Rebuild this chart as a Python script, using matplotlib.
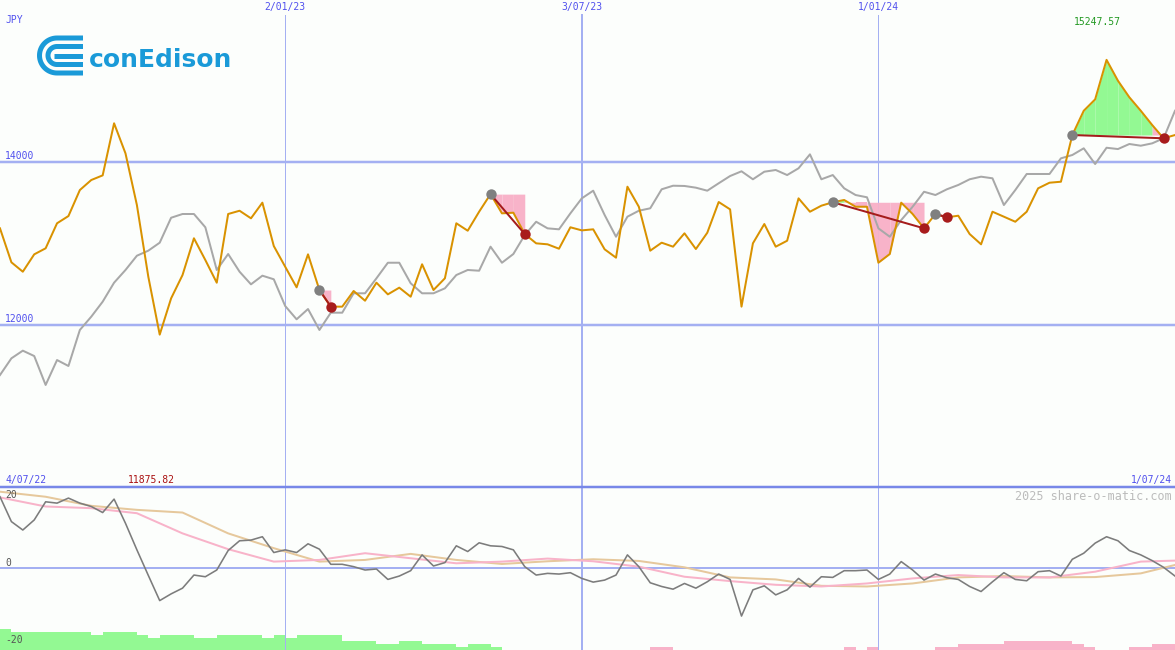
import matplotlib
matplotlib.use('Agg')
import matplotlib.pyplot as plt
import numpy as np
import pandas as pd

# weekly closes, JPY
dates = pd.date_range('2022-07-11', periods=104, freq='7D')

price = [13180, 12763, 12648, 12861, 12935, 13242, 13331, 13650, 13773, 13830,
         14469, 14100, 13466, 12587, 11875.82, 12321, 12607, 13058, 12791, 12513,
         13356, 13396, 13303, 13495, 12963, 12709, 12456, 12861, 12423, 12219,
         12219, 12411, 12292, 12513, 12370, 12452, 12341, 12739, 12423, 12567,
         13242, 13151, 13384, 13600, 13364, 13372, 13110, 12996, 12984, 12930,
         13193, 13155, 13168, 12923, 12820, 13691, 13445, 12906, 13004, 12955,
         13119, 12926, 13126, 13503, 13413, 12219, 12996, 13233, 12955, 13028,
         13548, 13384, 13458, 13500, 13528, 13445, 13445, 12758, 12865, 13495,
         13356, 13180, 13356, 13315, 13335, 13110, 12984, 13384, 13323, 13261,
         13384, 13671, 13740, 13752, 14325, 14623, 14763, 15247.57, 14991, 14788,
         14623, 14448, 14285, 14325]

average = [11380, 11585, 11679, 11613, 11258, 11564, 11491, 11933, 12096, 12280,
           12513, 12669, 12844, 12906, 13004, 13310, 13356, 13356, 13193, 12669,
           12865, 12648, 12493, 12599, 12555, 12227, 12064, 12190, 11933, 12145,
           12145, 12383, 12383, 12567, 12758, 12758, 12506, 12383, 12383, 12444,
           12607, 12669, 12660, 12955, 12758, 12865, 13098, 13261, 13180, 13168,
           13364, 13548, 13642, 13344, 13077, 13323, 13396, 13426, 13659, 13703,
           13700, 13679, 13642, 13733, 13822, 13880, 13782, 13875, 13896, 13834,
           13917, 14088, 13782, 13834, 13671, 13589, 13561, 13180, 13077, 13282,
           13445, 13629, 13589, 13659, 13712, 13782, 13814, 13794, 13466, 13650,
           13847, 13847, 13847, 14039, 14080, 14162, 13969, 14169, 14153, 14215,
           14194, 14223, 14285, 14623]

momentum = [21.1, 13.7, 11.2, 14.2, 19.6, 19.2, 20.7, 19.2, 18.2, 16.4,
            20.4, 13.2, 5.3, -2.3, -9.8, -7.8, -6.1, -2.2, -2.7, -0.7,
            5.1, 8.0, 8.2, 9.2, 4.5, 5.3, 4.5, 7.1, 5.5, 1.0,
            1.0, 0.3, -0.7, -0.4, -3.5, -2.5, -0.9, 3.8, 0.5, 1.5,
            6.5, 4.8, 7.4, 6.5, 6.3, 5.3, 0.3, -2.2, -1.7, -1.9,
            -1.5, -3.2, -4.3, -3.7, -2.2, 3.8, 0.3, -4.5, -5.6, -6.4,
            -4.7, -6.1, -4.2, -1.9, -3.5, -14.4, -6.6, -5.4, -8.1, -6.6,
            -3.2, -5.8, -2.7, -2.9, -0.9, -0.9, -0.7, -3.5, -1.9, 1.8,
            -0.7, -3.7, -1.9, -3.0, -3.5, -5.6, -7.1, -4.2, -1.5, -3.5,
            -3.9, -1.2, -0.9, -2.5, 2.5, 4.3, 7.3, 9.2, 8.0, 5.1,
            3.8, 2.1, 0.1, -2.5]

# smoothed momentum, read every 4 weeks
smooth_idx = list(range(0, 104, 4)) + [103]
smooth_fast = [20.9, 18.2, 17.7, 16.2, 10.2, 5.5, 1.8, 2.3, 4.3, 2.8, 1.3, 1.8, 2.7,
               1.9, 0.3, -2.7, -4.0, -5.1, -5.6, -4.7, -3.2, -2.2, -2.9, -2.9, -1.2,
               1.8, 2.1]
smooth_slow = [22.6, 21.1, 18.4, 17.2, 16.4, 10.2, 5.8, 1.8, 2.3, 4.1, 2.3, 1.1, 1.9,
               2.5, 2.0, 0.1, -2.9, -3.5, -5.4, -5.6, -4.7, -2.9, -2.5, -2.9, -2.8,
               -1.7, 0.8]

# strength bars at the foot of the lower panel (+ green, - pink)
bar_levels = ([7, 6, 6, 6, 6, 6, 6, 6, 5, 6, 6, 6, 5, 4, 5, 5, 5, 4, 4, 5, 5, 5, 5,
               4, 5, 4, 5, 5, 5, 5, 3, 3, 3, 2, 2, 3, 3, 2, 2, 2, 1, 2, 2, 1]
              + [0] * 13 + [-1, -1] + [0] * 15 + [-1, 0, -1] + [0] * 5
              + [-1, -1, -2, -2, -2, -2, -3, -3, -3, -3, -3, -3, -2, -1, 0, 0, 0,
                 -1, -1, -2, -2, 0])

# signals: start / end week
sig_start = [28, 43, 73, 82, 94]
sig_end = [29, 46, 81, 83, 102]

mark_dates = ['2023-01-02', '2023-07-03', '2024-01-01']
mark_labels = ['2/01/23', '3/07/23', '1/01/24']
mark_widths = [1, 2, 1]
price_ticks = [14000, 12000]
mom_ticks = [20, 0, -20]

BG = '#fcfefc'
GRID = '#a4b0f2'
BLUE_TXT = '#5050ee'
ORANGE = '#d99200'
PINK = '#f8b3c9'
GREEN = '#93f993'
PX = 0.72  # one pixel in points


def draw_logo(fig):
    ax = fig.add_axes([37 / 1175, 1 - 76 / 650, 46 / 1175, 41 / 650])
    ax.set_xlim(0, 46)
    ax.set_ylim(0, 41)
    ax.axis('off')
    blue = '#1a9ad8'
    cx, cy = 20, 20.5
    for r in [17.5, 9]:
        t = np.linspace(np.pi / 2, 3 * np.pi / 2, 40)
        xs = np.concatenate([[46], cx + r * np.cos(t), [46]])
        ys = np.concatenate([[cy + r], cy + r * np.sin(t), [cy - r]])
        ax.plot(xs, ys, color=blue, lw=5 * PX, solid_capstyle='butt')
    ax.plot([17, 46], [cy, cy], color=blue, lw=5 * PX, solid_capstyle='butt')
    fig.text(89 / 1175, 1 - 67 / 650, 'conEdison', fontsize=18, fontweight='bold',
             family='DejaVu Sans', color=blue, va='baseline')


def top_panel(ax):
    ax.set_facecolor(BG)
    for v in price_ticks:
        ax.axhline(v, color=GRID, lw=2.5 * PX, zorder=1)
        ax.annotate(str(v), (0, v), xycoords=('axes fraction', 'data'),
                    xytext=(5, 1), textcoords='offset pixels', fontsize=7,
                    family='DejaVu Sans Mono', color=BLUE_TXT, va='bottom')
    for d, lab, w in zip(mark_dates, mark_labels, mark_widths):
        ax.axvline(pd.Timestamp(d), ymax=1 - 15 / 487, color=GRID, lw=w * PX, zorder=1)
        ax.text(pd.Timestamp(d), 1 - 2 / 487, lab, transform=ax.get_xaxis_transform(),
                ha='center', va='top', fontsize=7, family='DejaVu Sans Mono', color=BLUE_TXT)

    ax.plot(dates, average, color='#a8a8a8', lw=2 * PX, zorder=3)

    for s, e in zip(sig_start, sig_end):
        level = price[s]
        for k in range(s, e):
            col = GREEN if price[k + 1] > level else PINK
            ax.fill_between(dates[k:k + 2], price[k:k + 2], level, color=col, lw=0, zorder=2)

    ax.plot(dates, price, color=ORANGE, lw=2 * PX, zorder=4)

    for s, e in zip(sig_start, sig_end):
        ax.plot([dates[s], dates[e]], [price[s], price[e]], color='#a51c1c', lw=2 * PX, zorder=5)
        ax.plot(dates[s], price[s], 'o', color='#808080', ms=7.5, mew=0, zorder=6)
        ax.plot(dates[e], price[e], 'o', color='#a81c1c', ms=7.5, mew=0, zorder=6)

    hi = int(np.argmax(price))
    lo = int(np.argmin(price))
    ax.annotate('%.2f' % price[hi], (dates[hi], 1 - 22 / 487), xycoords=('data', 'axes fraction'),
                xytext=(-9, 0), textcoords='offset pixels', ha='center', va='center',
                fontsize=7, family='DejaVu Sans Mono', color='#229922')
    ax.annotate('%.2f' % price[lo], (dates[lo], 0), xycoords=('data', 'axes fraction'),
                xytext=(-8, 2), textcoords='offset pixels', ha='center', va='bottom',
                fontsize=7, family='DejaVu Sans Mono', color='#aa1111')
    ax.text(5 / 1175, 1 - 20 / 487, 'JPY', transform=ax.transAxes, va='center',
            fontsize=7, family='DejaVu Sans Mono', color=BLUE_TXT)
    ax.text(5 / 1175, 2 / 487, '4/07/22', transform=ax.transAxes, va='bottom',
            fontsize=7, family='DejaVu Sans Mono', color=BLUE_TXT)
    ax.text(1 - 3 / 1175, 2 / 487, '1/07/24', transform=ax.transAxes, va='bottom', ha='right',
            fontsize=7, family='DejaVu Sans Mono', color=BLUE_TXT)

    ax.set_xlim(dates[0], dates[-1])
    ax.set_ylim(10006, 15982)
    ax.set_xticks([])
    ax.set_yticks([])
    for sp in ax.spines.values():
        sp.set_visible(False)


def bottom_panel(ax, axb):
    axb.set_facecolor(BG)
    lv = np.array(bar_levels)
    cols = [GREEN if v > 0 else PINK for v in lv]
    axb.bar(dates, np.abs(lv), width=7, align='edge', color=cols, lw=0)
    axb.set_xlim(dates[0], dates[-1])
    axb.set_ylim(0, 53.4)
    axb.axis('off')

    ax.patch.set_alpha(0)
    ax.axhline(0, color=GRID, lw=2 * PX, zorder=1)
    for d, w in zip(mark_dates, mark_widths):
        ax.axvline(pd.Timestamp(d), color=GRID, lw=w * PX, zorder=1)
    smooth_dates = dates[smooth_idx]
    ax.plot(smooth_dates, smooth_slow, color='#e6c89c', lw=2 * PX, zorder=2)
    ax.plot(smooth_dates, smooth_fast, color=PINK, lw=2 * PX, zorder=2)
    ax.plot(dates, momentum, color='#7c7c7c', lw=1.6 * PX, zorder=3)

    for v in mom_ticks:
        ax.text(5 / 1175, v, str(v), transform=ax.get_yaxis_transform(),
                va='top' if v < 0 else 'bottom', fontsize=7,
                family='DejaVu Sans Mono', color='#555555')
    ax.text(1 - 3 / 1175, 1 - 9 / 163, '2025 share-o-matic.com', transform=ax.transAxes,
            ha='right', va='center', fontsize=8.5, family='DejaVu Sans Mono', color='#bcbcbc')

    ax.set_xlim(dates[0], dates[-1])
    ax.set_ylim(-24.5, 24.0)
    ax.set_xticks([])
    ax.set_yticks([])
    for k, sp in ax.spines.items():
        sp.set_visible(k == 'top')
    ax.spines['top'].set_color('#7888e8')
    ax.spines['top'].set_linewidth(2.5 * PX)


def main():
    fig = plt.figure(figsize=(11.75, 6.5), dpi=100, facecolor=BG)
    split = 163 / 650
    ax_top = fig.add_axes([0, split, 1, 1 - split])
    ax_bars = fig.add_axes([0, 0, 1, split])
    ax_bot = fig.add_axes([0, 0, 1, split])
    top_panel(ax_top)
    bottom_panel(ax_bot, ax_bars)
    draw_logo(fig)
    fig.savefig('out.png', dpi=100, facecolor=BG)


main()
